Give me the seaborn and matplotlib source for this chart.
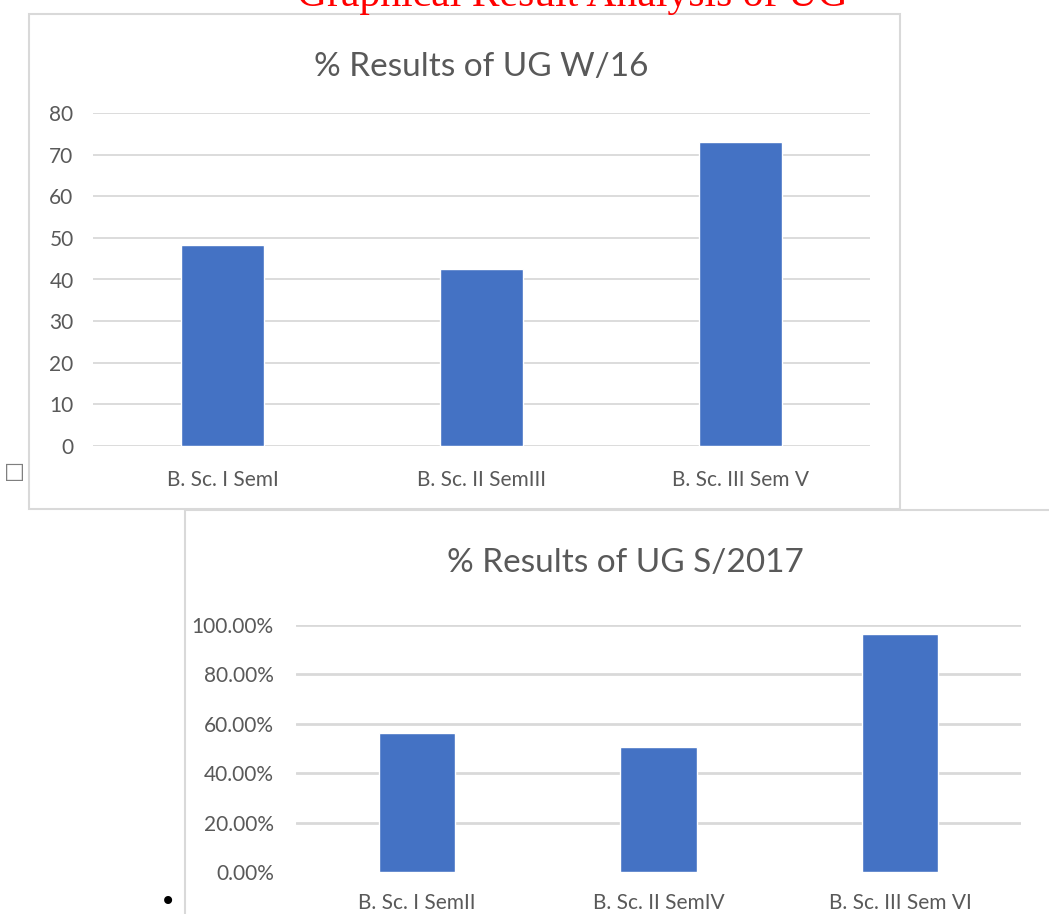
import matplotlib
matplotlib.use("Agg")
import matplotlib.pyplot as plt
import seaborn as sns
import pandas as pd
from matplotlib.patches import Rectangle
from matplotlib.lines import Line2D
from matplotlib.ticker import FuncFormatter

# ---- data ----
w16_categories = ["B. Sc. I SemI", "B. Sc. II SemIII", "B. Sc. III Sem V"]
w16_values = [48.3, 42.5, 73.0]
w16_yticks = [0, 10, 20, 30, 40, 50, 60, 70, 80]

s17_categories = ["B. Sc. I SemII", "B. Sc. II SemIV", "B. Sc. III Sem VI"]
s17_values = [56.3, 50.6, 96.4]
s17_yticks = [0, 20, 40, 60, 80, 100]

page_title = "Graphical Result Analysis of UG"
title1 = "% Results of UG W/16"
title2 = "% Results of UG S/2017"

BAR = "#4472C4"
TXT = "#595959"
GRID = "#D9D9D9"

sns.set_theme(style="white")
plt.rcParams["font.family"] = ["Lato", "DejaVu Sans"]

W, H = 1049, 914
fig = plt.figure(figsize=(W / 100, H / 100), dpi=100)
fig.patch.set_facecolor("white")


def fx(px):
    return px / W


def fy(py):
    return 1 - py / H


# frames
fig.add_artist(Rectangle((fx(29), fy(509)), fx(900) - fx(29), fy(14) - fy(509),
                         transform=fig.transFigure, fill=False, edgecolor=GRID, lw=1.5))
fig.add_artist(Line2D([fx(185), fx(185)], [fy(510), fy(914)], transform=fig.transFigure,
                      color=GRID, lw=1.5))
fig.add_artist(Line2D([fx(185), fx(1049)], [fy(510), fy(510)], transform=fig.transFigure,
                      color=GRID, lw=1.5))

# page title (cut off at top, as in the reference)
fig.text(fx(572), fy(6), page_title, color="red", fontsize=30,
         family=["Liberation Serif", "DejaVu Serif"], ha="center", va="baseline")
fig.text(fx(14), fy(472), "\u25A1", color="#7F7F7F", fontsize=16,
         family=["DejaVu Sans"], ha="center", va="center")
fig.text(fx(168), fy(902), "\u2022", color="black", fontsize=20,
         family=["DejaVu Sans"], ha="center", va="center")

# ---- chart 1 ----
ax1 = fig.add_axes([fx(93), fy(446), fx(870) - fx(93), fy(113) - fy(446)])
df1 = pd.DataFrame({"cat": w16_categories, "val": w16_values})
sns.barplot(data=df1, x="cat", y="val", color=BAR, saturation=1, width=0.317, ax=ax1, zorder=3)
ax1.set_ylim(0, 80)
ax1.set_xlim(-0.5, 2.5)
ax1.set_yticks(w16_yticks)
ax1.yaxis.grid(True, color=GRID, lw=1.3, zorder=0)
ax1.set_axisbelow(True)
for s in ax1.spines.values():
    s.set_visible(False)
ax1.set_xlabel("")
ax1.set_ylabel("")
ax1.tick_params(axis="both", length=0, colors=TXT, labelsize=15)
ax1.tick_params(axis="y", pad=14)
ax1.tick_params(axis="x", pad=17)
ax1.set_title(title1, fontsize=24, color=TXT, pad=27)

# ---- chart 2 ----
ax2 = fig.add_axes([fx(296), fy(872), fx(1021) - fx(296), fy(625) - fy(872)])
df2 = pd.DataFrame({"cat": s17_categories, "val": s17_values})
sns.barplot(data=df2, x="cat", y="val", color=BAR, saturation=1, width=0.315, ax=ax2, zorder=3)
ax2.set_ylim(0, 100)
ax2.set_xlim(-0.5, 2.5)
ax2.set_yticks(s17_yticks)
ax2.yaxis.set_major_formatter(FuncFormatter(lambda v, p: f"{v:.2f}%"))
for v in s17_yticks[1:]:
    ax2.axhline(v, color=GRID, lw=2, zorder=0)
for s in ax2.spines.values():
    s.set_visible(False)
ax2.set_xlabel("")
ax2.set_ylabel("")
ax2.tick_params(axis="both", length=0, colors=TXT, labelsize=15)
ax2.tick_params(axis="y", pad=16)
ax2.tick_params(axis="x", pad=15)
ax2.set_title(title2, fontsize=24, color=TXT, pad=38,
              x=(fx(625) - fx(296)) / (fx(1021) - fx(296)))

fig.savefig("out.png", dpi=100, facecolor="white")
